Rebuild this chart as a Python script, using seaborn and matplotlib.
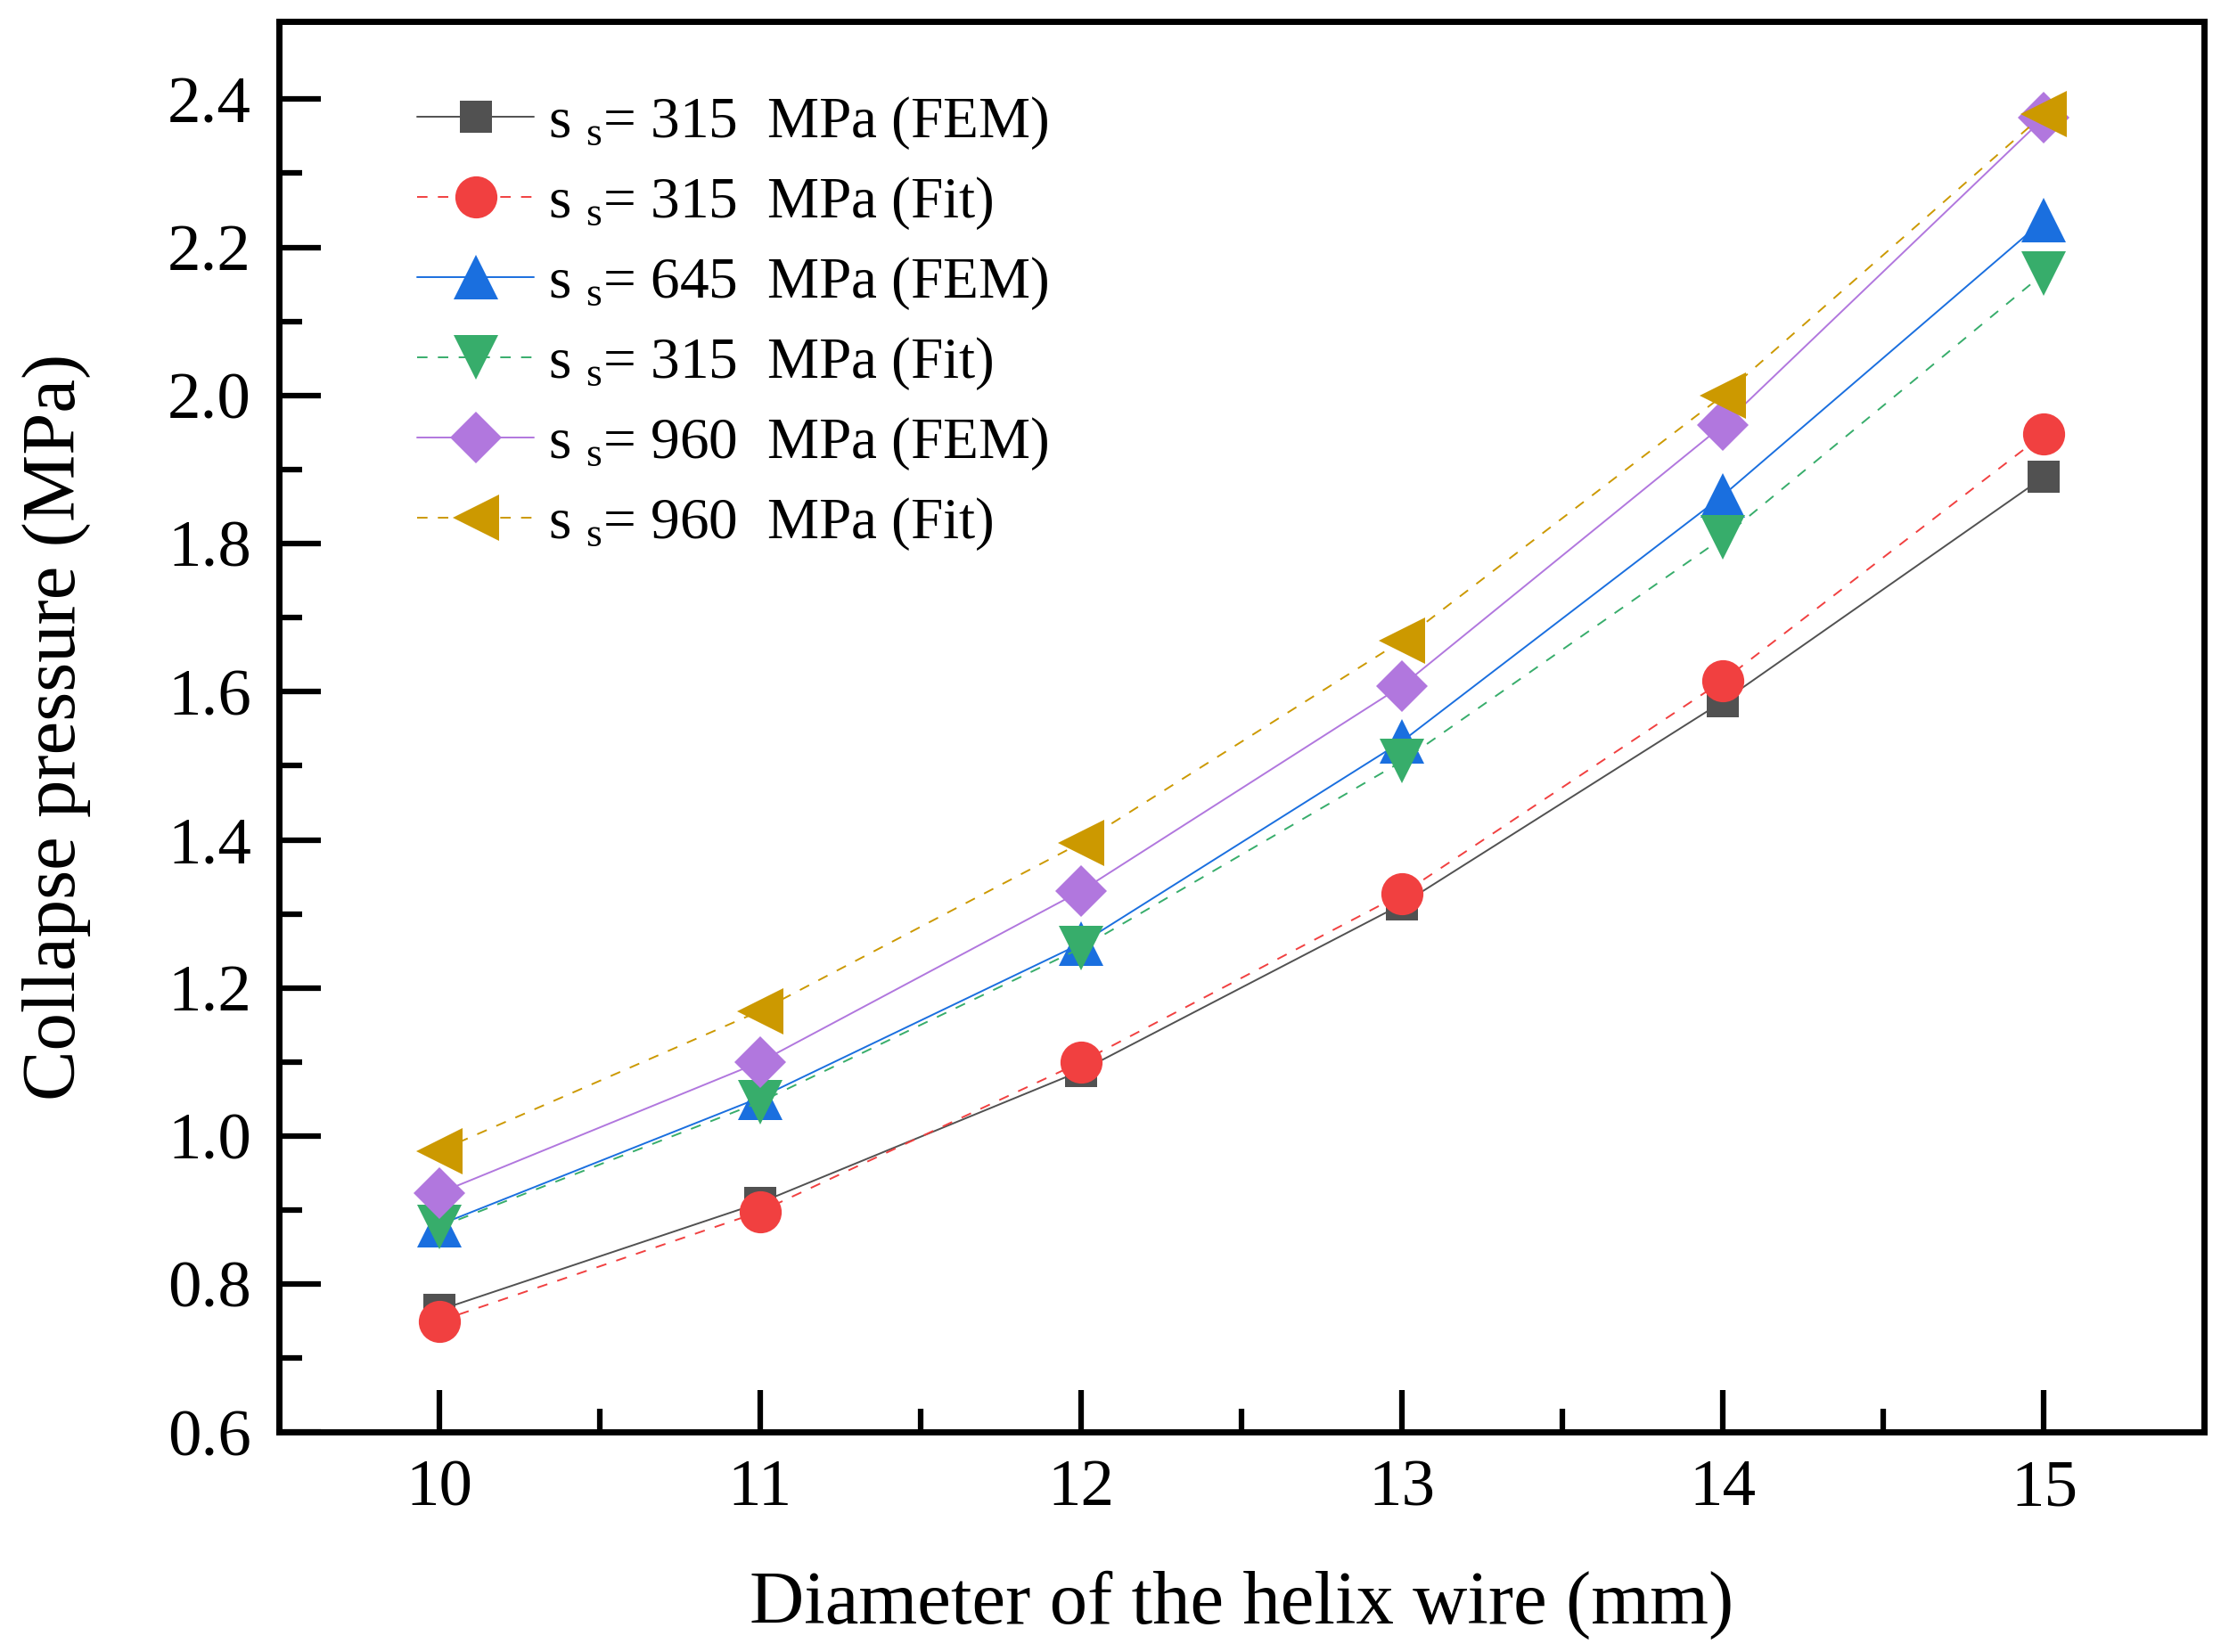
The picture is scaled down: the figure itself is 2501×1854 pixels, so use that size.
import numpy as np
import pandas as pd
import matplotlib
matplotlib.use("Agg")
import matplotlib.pyplot as plt
import seaborn as sns

# data
diameter = [10, 11, 12, 13, 14, 15]
fem_315 = [0.765, 0.910, 1.088, 1.313, 1.587, 1.890]
fit_315 = [0.750, 0.898, 1.100, 1.327, 1.615, 1.948]
fem_645 = [0.880, 1.052, 1.260, 1.533, 1.865, 2.237]
fit_645 = [0.877, 1.046, 1.254, 1.506, 1.808, 2.165]
fem_960 = [0.923, 1.100, 1.331, 1.608, 1.960, 2.375]
fit_960 = [0.980, 1.169, 1.396, 1.669, 2.000, 2.380]

labels = [
    r"s $_{\mathrm{s}}$= 315  MPa (FEM)",
    r"s $_{\mathrm{s}}$= 315  MPa (Fit)",
    r"s $_{\mathrm{s}}$= 645  MPa (FEM)",
    r"s $_{\mathrm{s}}$= 315  MPa (Fit)",
    r"s $_{\mathrm{s}}$= 960  MPa (FEM)",
    r"s $_{\mathrm{s}}$= 960  MPa (Fit)",
]
series = [fem_315, fit_315, fem_645, fit_645, fem_960, fit_960]
colors = ["#515151", "#F14040", "#1A6FDF", "#37AD6B", "#B177DE", "#CC9900"]
markers = ["s", "o", "^", "v", "D", "<"]
msizes = [26, 34, 36, 36, 30, 38]
styles = ["-", "--", "-", "--", "-", "--"]

sns.set_style("ticks")
plt.rcParams["font.family"] = ["Liberation Serif", "DejaVu Serif"]
plt.rcParams["mathtext.fontset"] = "custom"
plt.rcParams["mathtext.rm"] = "Liberation Serif"
plt.rcParams["mathtext.it"] = "Liberation Serif:italic"
plt.rcParams["text.color"] = "black"
plt.rcParams["axes.labelcolor"] = "black"
plt.rcParams["xtick.color"] = "black"
plt.rcParams["ytick.color"] = "black"
plt.rcParams["axes.edgecolor"] = "black"

fig = plt.figure(figsize=(25.01, 18.54), dpi=100)
ax = fig.add_axes([0.125, 0.133, 0.864, 0.854])

for vals, lab, c, m, ms, ls in zip(series, labels, colors, markers, msizes, styles):
    df = pd.DataFrame({"d": diameter, "p": vals})
    kw = dict(dashes=(6, 6)) if ls == "--" else {}
    sns.lineplot(data=df, x="d", y="p", ax=ax, color=c, marker=m, markersize=ms,
                 markeredgewidth=0, linewidth=1.4, label=lab, **kw)

ax.set_xlim(9.5, 15.5)
ax.set_ylim(0.6, 2.505)
ax.set_xticks(diameter)
ax.set_xticks(np.arange(10.5, 15.0, 1.0), minor=True)
ax.set_yticks(np.arange(0.6, 2.41, 0.2))
ax.set_yticks(np.arange(0.7, 2.5, 0.2), minor=True)
ax.yaxis.set_major_formatter(matplotlib.ticker.FormatStrFormatter("%.1f"))

ax.tick_params(axis="both", which="major", direction="in", length=34, width=4.5,
               labelsize=54, pad=22)
ax.tick_params(axis="both", which="minor", direction="in", length=19, width=4.5)
for s in ax.spines.values():
    s.set_linewidth(5)
    s.set_visible(True)

ax.set_xlabel("Diameter of the helix wire (mm)", fontsize=61, labelpad=41)
ax.set_ylabel("Collapse pressure (MPa)", fontsize=61, labelpad=62)

ax.legend(loc="upper left", bbox_to_anchor=(0.06, 0.965), frameon=False, fontsize=47,
          handlelength=2.0, handletextpad=0.25, labelspacing=0.4, borderaxespad=0)

fig.savefig("out.png", dpi=100)
